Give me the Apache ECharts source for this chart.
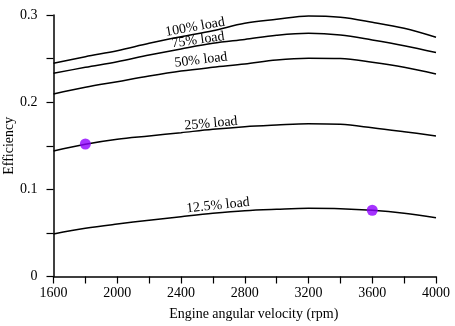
<!DOCTYPE html>
<html>
<head>
<meta charset="utf-8">
<script src="https://cdn.jsdelivr.net/npm/echarts@6/dist/echarts.min.js"></script>
<style>html,body{margin:0;padding:0;background:#fff}#c{width:455px;height:326px}</style>
</head>
<body>
<div id="c"></div>
<script>
var rpm = [1600,1800,2000,2200,2400,2600,2800,3000,3200,3400,3600,3800,4000];
var load100 = [0.2446,0.2522,0.2590,0.2675,0.2750,0.2820,0.2905,0.2950,0.2988,0.2973,0.2916,0.2847,0.2744];
var load75  = [0.2331,0.2400,0.2464,0.2540,0.2610,0.2675,0.2720,0.2767,0.2790,0.2770,0.2713,0.2648,0.2570];
var load50  = [0.2094,0.2170,0.2235,0.2300,0.2357,0.2400,0.2438,0.2484,0.2503,0.2500,0.2457,0.2400,0.2323];
var load25  = [0.1440,0.1517,0.1574,0.1612,0.1650,0.1689,0.1719,0.1738,0.1753,0.1746,0.1707,0.1661,0.1612];
var load12  = [0.0488,0.0553,0.0602,0.0645,0.0686,0.0725,0.0755,0.0771,0.0782,0.0778,0.0759,0.0725,0.0675];
var seriesNames = ['100% load','75% load','50% load','25% load','12.5% load'];
var labelCoords = [[2488,0.2862],[2507,0.2713],[2525,0.2484],[2588,0.1755],[2632,0.0815]];
var labelAngles = [10,8,7,5,6];
var dots = [[1800,0.152],[3600,0.076]];
var xTicks = [1600,2000,2400,2800,3200,3600,4000];
var yTicks = [0,0.1,0.2,0.3];

var FONT = 'Liberation Serif';
var all = [load100,load75,load50,load25,load12];
function pairs(arr){ return rpm.map(function(r,i){return [r,arr[i]];}); }
var series = all.map(function(arr,k){
  return {
    type:'line', name:seriesNames[k], data:pairs(arr), smooth:0.35, symbol:'none',
    lineStyle:{color:'#000',width:1.5}, silent:true,
    markPoint:{
      symbol:'circle', symbolSize:0, silent:true,
      data:[{coord:labelCoords[k]}],
      label:{show:true, position:'inside', formatter:seriesNames[k], rotate:labelAngles[k],
        color:'#000', fontFamily:FONT, fontSize:14}
    }
  };
});
series.push({type:'scatter', data:dots, symbolSize:11, itemStyle:{color:'#8f00ff'}, z:5});

var chart = echarts.init(document.getElementById('c'));
chart.setOption({
  animation:false,
  grid:{left:53.5,right:19,top:15,bottom:49.5,containLabel:false,outerBoundsMode:'none'},
  xAxis:{type:'value',min:1600,max:4000,interval:400,
    name:'Engine angular velocity (rpm)',nameLocation:'middle',nameGap:31,nameMoveOverlap:false,
    nameTextStyle:{fontFamily:FONT,fontSize:14,color:'#000',padding:[0,0,0,18]},
    axisLine:{lineStyle:{color:'#000',width:1.5}},
    axisTick:{show:true,length:7,lineStyle:{color:'#000',width:1.2}},
    minorTick:{show:true,splitNumber:2,length:7,lineStyle:{color:'#000',width:1.2}},
    splitLine:{show:false},
    axisLabel:{margin:10,fontFamily:FONT,fontSize:14,color:'#000',
      formatter:function(v){return xTicks.indexOf(v)>=0?String(v):'';}}
  },
  yAxis:{type:'value',min:0,max:0.3,interval:0.1,
    name:'Efficiency',nameLocation:'middle',nameGap:37,nameRotate:90,nameMoveOverlap:false,
    nameTextStyle:{fontFamily:FONT,fontSize:14,color:'#000'},
    axisLine:{show:true,lineStyle:{color:'#000',width:1.5}},
    axisTick:{show:true,length:7,lineStyle:{color:'#000',width:1.2}},
    minorTick:{show:true,splitNumber:2,length:7,lineStyle:{color:'#000',width:1.2}},
    splitLine:{show:false},
    axisLabel:{margin:16,fontFamily:FONT,fontSize:14,color:'#000',
      formatter:function(v){var i=yTicks.findIndex(function(t){return Math.abs(t-v)<1e-9;});return i>=0?String(yTicks[i]):'';}}
  },
  series:series
});
</script>
</body>
</html>
